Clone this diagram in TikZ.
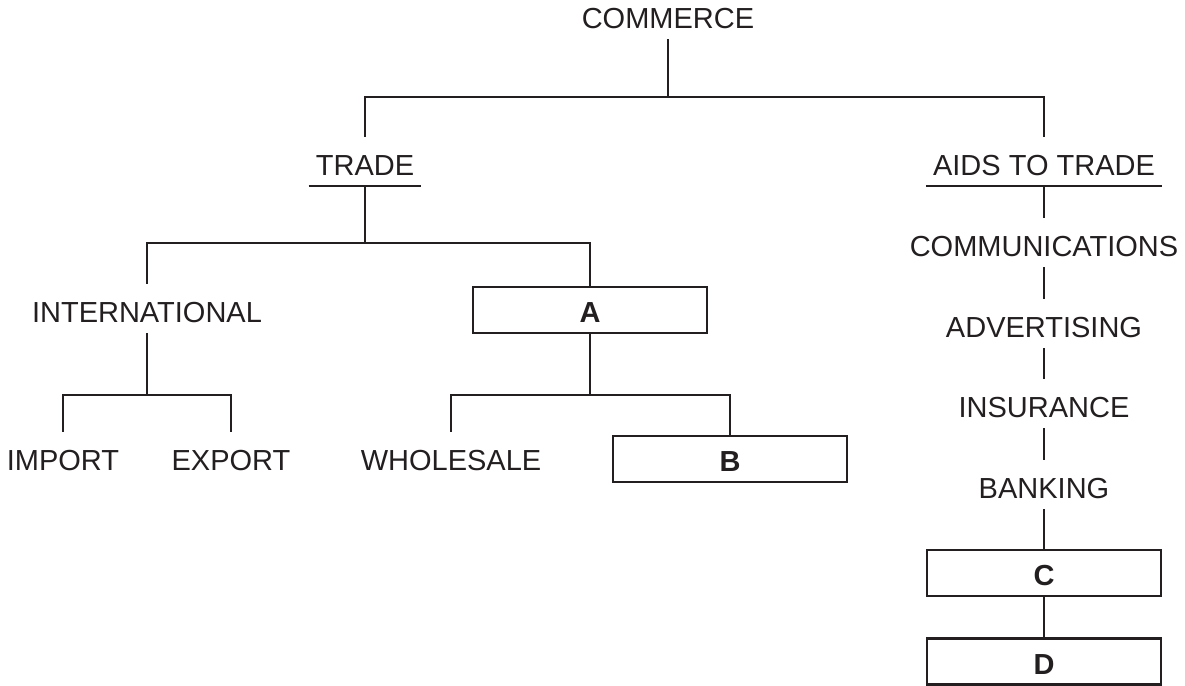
\documentclass[tikz,border=0pt]{standalone}
\usepackage{fontspec}
\setmainfont{Liberation Sans}
\usepackage{xcolor}
\usepackage{tikz}
\usetikzlibrary{positioning, calc}
\definecolor{inkgray}{RGB}{35, 31, 32}

\begin{document}
\begin{tikzpicture}[x=0.5pt, y=-0.5pt, line width=1.2pt, draw=inkgray,
  lbl/.style={anchor=base, text=inkgray, font=\fontsize{14.5}{17}\selectfont,
    inner xsep=3pt, inner ysep=5pt, text height=13.5pt, text depth=0pt},
  blank/.style={draw=inkgray, line width=1.2pt, text=inkgray,
    font=\fontsize{14.5}{17}\selectfont\bfseries,
    text height=12.5pt, text depth=0pt,
    minimum width=117pt, minimum height=23pt, inner sep=0pt}]
\useasboundingbox (0,0) rectangle (1185,686);

% Top
\node[lbl] (commerce) at (668,28) {COMMERCE};
\node[lbl] (trade) at (365,175) {TRADE};
\node[lbl] (aids) at (1044,175) {AIDS TO TRADE};
\draw (trade.south west) -- (trade.south east);
\draw (aids.south west) -- (aids.south east);
\coordinate (topbus) at (668,97);
\draw (commerce.south) -- (topbus);
\draw (trade.north) |- (topbus) -| (aids.north);

% Trade branch
\node[lbl] (intl) at (147,322) {INTERNATIONAL};
\node[blank] (boxA) at (590,310) {A};
\coordinate (tradebus) at (365,243);
\draw (trade.south) -- (tradebus);
\draw (intl.north) |- (tradebus) -| (boxA.north);

% International
\node[lbl] (import) at (63,470) {IMPORT};
\node[lbl] (export) at (231,470) {EXPORT};
\coordinate (intlbus) at (147,395);
\draw (intl.south) -- (intlbus);
\draw (import.north) |- (intlbus) -| (export.north);

% Box A
\node[lbl] (wholesale) at (451,470) {WHOLESALE};
\node[blank] (boxB) at (730,459) {B};
\coordinate (abus) at (590,395);
\draw (boxA.south) -- (abus);
\draw (wholesale.north) |- (abus) -| (boxB.north);

% Aids to trade
\node[lbl] (comm) at (1044,256) {COMMUNICATIONS};
\node[lbl] (advert) at (1044,337) {ADVERTISING};
\node[lbl] (insure) at (1044,417) {INSURANCE};
\node[lbl] (bank) at (1044,498) {BANKING};
\node[blank] (boxC) at (1044,573) {C};
\node[blank] (boxD) at (1044,661.5) {D};
\draw (aids.south) -- (comm.north);
\draw (comm.south) -- (advert.north);
\draw (advert.south) -- (insure.north);
\draw (insure.south) -- (bank.north);
\draw (bank.south) -- (boxC.north);
\draw (boxC.south) -- (boxD.north);
\end{tikzpicture}
\end{document}
